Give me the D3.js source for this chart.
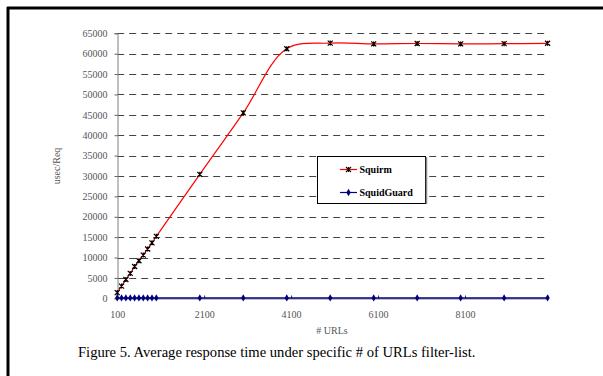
<!DOCTYPE html>
<html>
<head>
<meta charset="utf-8">
<script src="https://cdn.jsdelivr.net/npm/d3@7"></script>
<style>
body { margin: 0; background: #fff; }
svg { display: block; font-family: "Liberation Serif", "DejaVu Serif", serif; }
</style>
</head>
<body>
<svg width="603" height="376"></svg>
<script>
// # of URLs in the filter-list
var urls = [100, 200, 300, 400, 500, 600, 700, 800, 900, 1000,
            2000, 3000, 4000, 5000, 6000, 7000, 8000, 9000, 10000];
// usec per request
var squirm = [1400, 3000, 4600, 6100, 7800, 9200, 10600, 12100, 13600, 15200,
              30400, 45500, 61200, 62600, 62400, 62500, 62400, 62450, 62550];
var squidGuard = [100, 100, 100, 100, 100, 100, 100, 100, 100, 100,
                  100, 100, 100, 100, 100, 100, 100, 100, 100];
var xTicks = [100, 2100, 4100, 6100, 8100];
var yTicks = d3.range(0, 65001, 5000);

var svg = d3.select('svg');

// frame (top + left only)
svg.append('line').attr('x1', 7).attr('x2', 603).attr('y1', 8).attr('y2', 8)
	.style('stroke', '#000').style('stroke-width', 3);
svg.append('line').attr('x1', 8).attr('x2', 8).attr('y1', 7).attr('y2', 376)
	.style('stroke', '#000').style('stroke-width', 3);

var x = d3.scaleLinear().domain([100, 10000]).range([117.2, 547.6]);
var y = d3.scaleLinear().domain([0, 65000]).range([298.3, 33.3]);

// dashed grid
svg.append('g').selectAll('line')
	.data(yTicks.slice(1))
	.enter()
	.append('line')
	.attr('x1', x(100)).attr('x2', x(10000))
	.attr('y1', function(d) {return Math.round(y(d)) + 0.5;})
	.attr('y2', function(d) {return Math.round(y(d)) + 0.5;})
	.style('stroke', '#444')
	.style('stroke-dasharray', '7,5');

// y axis
var yAxis = svg.append('g')
	.attr('transform', 'translate(' + (Math.round(x(100)) + 0.5) + ',0)')
	.call(d3.axisLeft(y).tickValues(yTicks).tickSize(3).tickPadding(7).tickFormat(d3.format('d')));
yAxis.select('.domain').style('stroke', '#808080');
yAxis.selectAll('.tick line').style('stroke', '#666');
yAxis.selectAll('text').style('font-size', '10px').style('fill', '#555')
	.style('font-family', '"Liberation Serif", serif');

// x axis
var xAxis = svg.append('g')
	.attr('transform', 'translate(0,' + (Math.round(y(0)) + 0.5) + ')')
	.call(d3.axisBottom(x).tickValues(xTicks).tickSize(-3).tickPadding(12).tickFormat(d3.format('d')));
xAxis.select('.domain').style('stroke', '#808080');
xAxis.selectAll('.tick line').style('stroke', '#333');
xAxis.selectAll('text').style('font-size', '10px').style('fill', '#555')
	.style('font-family', '"Liberation Serif", serif');

// axis titles
svg.append('text')
	.attr('transform', 'translate(60,166) rotate(-90)')
	.attr('text-anchor', 'middle')
	.style('font-size', '10px').style('fill', '#555')
	.text('usec/Req');
svg.append('text')
	.attr('x', 332).attr('y', 334)
	.attr('text-anchor', 'middle')
	.style('font-size', '10px').style('fill', '#555')
	.text('# URLs');

// series
var rows = urls.map(function(u, i) {return {u: u, a: squirm[i], b: squidGuard[i]};});

svg.append('path')
	.datum(rows)
	.attr('d', d3.line()
		.x(function(d) {return x(d.u);})
		.y(function(d) {return y(d.b);}))
	.style('fill', 'none').style('stroke', '#000080').style('stroke-width', 1.5);

svg.append('path')
	.datum(rows)
	.attr('d', d3.line()
		.curve(d3.curveCatmullRom.alpha(0.5))
		.x(function(d) {return x(d.u);})
		.y(function(d) {return y(d.a);}))
	.style('fill', 'none').style('stroke', '#ff0000').style('stroke-width', 1.2);

var diamond = d3.symbol().type(d3.symbolDiamond).size(16);
var star = 'M-2.5,-2.5L2.5,2.5M-2.5,2.5L2.5,-2.5M0,-2.5L0,2.5';

svg.append('g').selectAll('path')
	.data(rows)
	.enter()
	.append('path')
	.attr('transform', function(d) {return 'translate(' + x(d.u) + ',' + y(d.b) + ')';})
	.attr('d', diamond)
	.style('fill', '#000080');

svg.append('g').selectAll('path')
	.data(rows)
	.enter()
	.append('path')
	.attr('transform', function(d) {return 'translate(' + x(d.u) + ',' + y(d.a) + ')';})
	.attr('d', star)
	.style('stroke', '#000').style('stroke-width', 1.2);

// legend
var lg = svg.append('g');
lg.append('rect')
	.attr('x', 317.5).attr('y', 156.5).attr('width', 108).attr('height', 47)
	.style('fill', '#fff').style('stroke', '#000');
lg.append('line').attr('x1', 426.5).attr('x2', 426.5).attr('y1', 157).attr('y2', 204)
	.style('stroke', '#888').style('stroke-width', 1.5);

var legend = [
	{name: 'Squirm', color: '#ff0000', y: 169.5, mark: 'star'},
	{name: 'SquidGuard', color: '#000080', y: 192.5, mark: 'diamond'}
];
legend.forEach(function(l) {
	lg.append('line').attr('x1', 340).attr('x2', 357).attr('y1', l.y).attr('y2', l.y)
		.style('stroke', l.color).style('stroke-width', 1.2);
	if(l.mark == 'star')
		lg.append('path').attr('transform', 'translate(348.5,' + l.y + ')').attr('d', star)
			.style('stroke', '#000').style('stroke-width', 1.1);
	else
		lg.append('path').attr('transform', 'translate(348.5,' + l.y + ')').attr('d', diamond)
			.style('fill', l.color);
	lg.append('text').attr('x', 359.5).attr('y', l.y + 3.5)
		.style('font-size', '10px').style('font-weight', 'bold')
		.text(l.name);
});

// caption
svg.append('text')
	.attr('x', 78).attr('y', 357)
	.style('font-size', '14.6px').style('fill', '#000')
	.text('Figure 5. Average response time under specific # of URLs filter-list.');
</script>
</body>
</html>
